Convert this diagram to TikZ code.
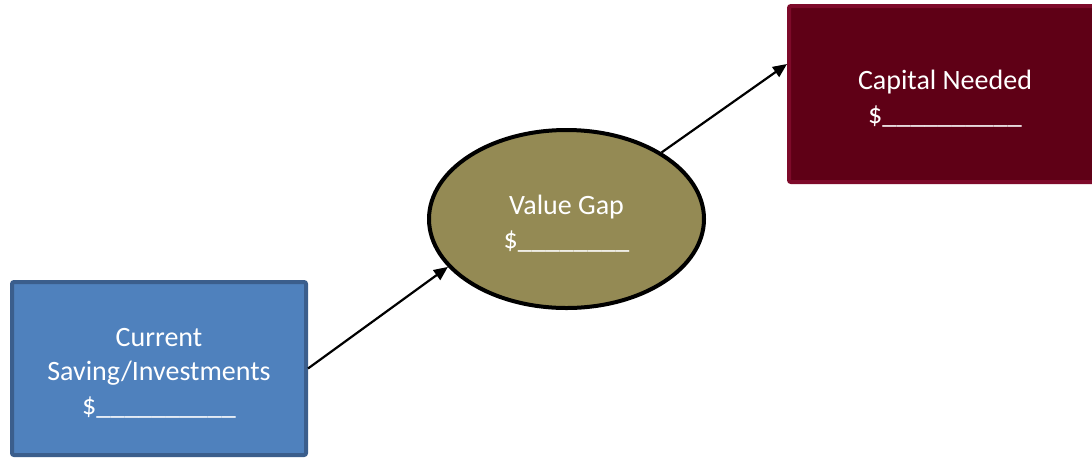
\documentclass[tikz,border=0pt]{standalone}
\usepackage{fontspec}
\setmainfont{Carlito}
\usetikzlibrary{shapes.geometric,arrows.meta,calc}
\definecolor{bluefill}{HTML}{4F81BD}
\definecolor{blueline}{HTML}{3B5E8C}
\definecolor{olivefill}{HTML}{948A54}
\definecolor{redfill}{HTML}{5F0016}
\definecolor{redline}{HTML}{7E0A2A}
\newcommand{\toppad}{\rule{0pt}{28pt}}
\tikzset{
  boxtext/.style={text=white, align=center, inner sep=0pt, font=\fontsize{28}{34}\selectfont},
  bluebox/.style={boxtext, rectangle, rounded corners=2pt, draw=blueline, fill=bluefill, line width=4pt, minimum width=294pt, minimum height=173pt},
  redbox/.style={boxtext, rectangle, rounded corners=2pt, draw=redline, fill=redfill, line width=4pt, minimum width=312pt, minimum height=176pt},
  gapoval/.style={boxtext, ellipse, draw=black, fill=olivefill, line width=4pt, minimum width=275pt, minimum height=178pt},
  conn/.style={line width=2.2pt, -{Triangle[length=14pt,width=12pt]}}
}
\begin{document}
\begin{tikzpicture}[x=1pt,y=-1pt]
\useasboundingbox (0,0) rectangle (1092,459);
\begin{scope}
\clip (0,0) rectangle (1092,459);
\node[bluebox] (cur) at (159,368.5) {\toppad Current\\Saving/Investments\\\$\_\_\_\_\_\_\_\_\_\_};
\node[gapoval] (vg) at (566.5,219) {\toppad Value Gap\\\$\_\_\_\_\_\_\_\_};
\node[redbox] (cap) at (945,94) {\toppad Capital Needed\\\$\_\_\_\_\_\_\_\_\_\_};
\end{scope}
\draw[conn] (cur.east) -- (vg.202);
\draw[conn] (vg.35) -- ($(cap.west)+(0,-30)$);
\end{tikzpicture}
\end{document}
